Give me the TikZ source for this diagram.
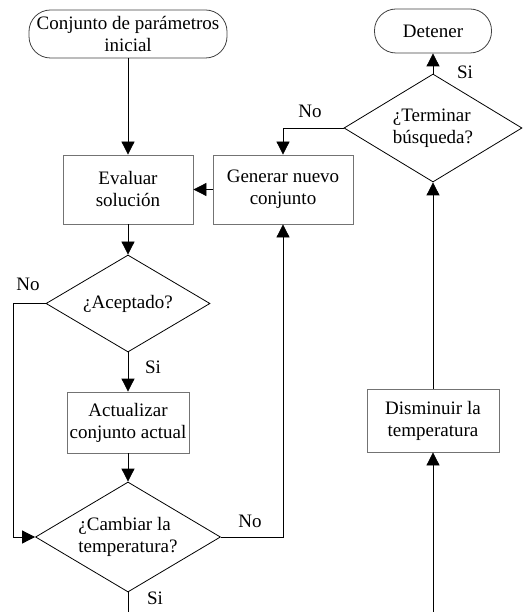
\documentclass[tikz,border=0pt]{standalone}
\usepackage{fontspec}
\setmainfont{Liberation Serif}
\usetikzlibrary{shapes.geometric,arrows.meta}
\tikzset{
 base/.style={font=\fontsize{19}{22}\selectfont, inner sep=0pt, align=center},
 term/.style={base, draw=black!75, line width=0.8pt, rectangle, rounded corners=21.5pt},
 proc/.style={base, draw=black!55, line width=0.8pt, rectangle},
 dec/.style={base, draw=black, line width=0.8pt, diamond, aspect=1.67, align=left},
 lbl/.style={font=\fontsize{19}{22}\selectfont, inner sep=0pt},
 conn/.style={line width=0.8pt, -{Triangle[length=13pt,width=13pt]}},
 plainline/.style={line width=0.8pt}
}
\begin{document}
\begin{tikzpicture}[x=1pt,y=-1pt]
\useasboundingbox (0,0) rectangle (523,612);
\node[term, minimum width=198pt, minimum height=48pt] (start) at (128,34) {Conjunto de parámetros\\inicial};
\node[term, minimum width=117pt, minimum height=44pt] (det) at (433,31) {Detener};
\node[proc, minimum width=130pt, minimum height=69pt] (eval) at (128,189.5) {Evaluar\\solución};
\node[proc, minimum width=140pt, minimum height=69pt] (gen) at (283,189.5) {Generar nuevo\\conjunto};
\node[dec, minimum width=178pt, minimum height=108pt] (term) at (433,128) {¿Terminar\\búsqueda?};
\node[dec, minimum width=164pt, minimum height=97pt] (acep) at (128,303.5) {¿Aceptado?};
\node[proc, minimum width=122pt, minimum height=61pt] (act) at (128,422.5) {Actualizar\\conjunto actual};
\node[dec, minimum width=185pt, minimum height=110pt] (camb) at (128,537) {¿Cambiar la\\temperatura?};
\node[proc, minimum width=132pt, minimum height=63pt] (dism) at (433,420.5) {Disminuir la\\temperatura};
\coordinate (bot1) at (128,612);
\coordinate (bot2) at (433,612);
% connectors
\draw[conn] (start) -- (eval);
\draw[conn] (gen) -- (eval);
\draw[conn] (eval) -- (acep);
\draw[conn] (acep) -- (act);
\draw[conn] (act) -- (camb);
\draw[conn] (acep.west) -- ++(-32,0) |- (camb.west);
\draw[conn] (camb.east) -| (gen.south);
\draw[conn] (term.west) -| (gen.north);
\draw[conn] (term.north) -- (det.south);
\draw[conn] (dism.north) -- (term.south);
\draw[conn] (bot2) -- (dism.south);
\draw[plainline] (camb.south) -- (bot1);
% labels
\node[lbl] (l1) at (28,284) {No};
\node[lbl] (l2) at (153,367) {Si};
\node[lbl] (l3) at (250,521) {No};
\node[lbl] (l4) at (155,598) {Si};
\node[lbl] (l5) at (310,111) {No};
\node[lbl] (l6) at (465,72) {Si};
\end{tikzpicture}
\end{document}
